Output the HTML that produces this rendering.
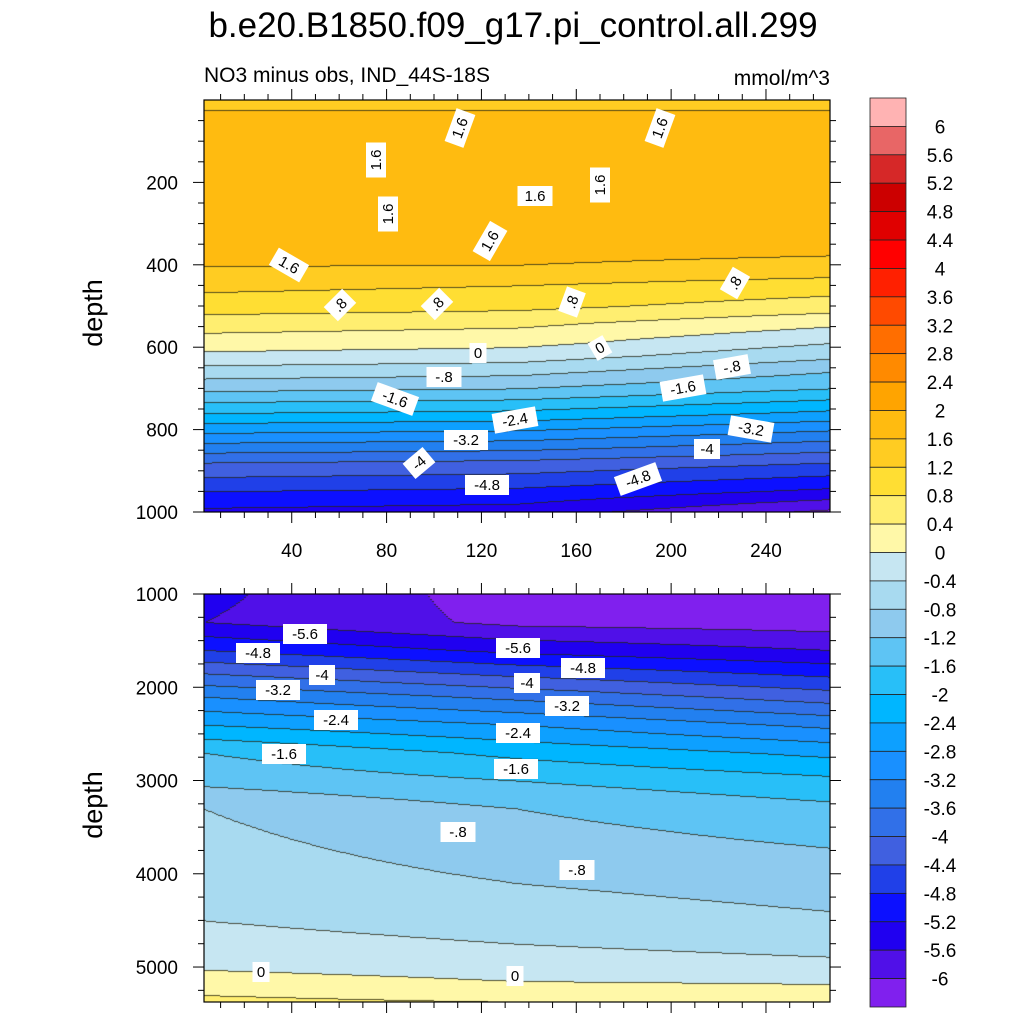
<!DOCTYPE html>
<html><head><meta charset="utf-8"><style>
body{margin:0;background:#fff;}
#wrap{position:relative;width:1024px;height:1024px;overflow:hidden;font-family:"Liberation Sans",sans-serif;}
canvas{position:absolute;}
svg{position:absolute;left:0;top:0;}
</style></head><body>
<div id="wrap">
<canvas id="c1" width="626" height="412" style="left:204px;top:100px"></canvas>
<canvas id="c2" width="626" height="408" style="left:204px;top:594px"></canvas>
<svg id="s" width="1024" height="1024"></svg>
</div>
<script>
const levels=[-6,-5.6,-5.2,-4.8,-4.4,-4,-3.6,-3.2,-2.8,-2.4,-2,-1.6,-1.2,-0.8,-0.4,0,0.4,0.8,1.2,1.6,2,2.4,2.8,3.2,3.6,4,4.4,4.8,5.2,5.6,6];
const colors=["#8020ee","#5010e8","#2000f0","#0c10ff","#2040e8","#4060e0","#3170e8","#2280f0","#1990ff","#0da0ff","#00b6ff","#28bff8","#5ec4f4","#8ecaee","#a8daf0","#c6e6f2","#fff8a8","#ffee70","#ffde33","#ffcc22","#ffbb10","#ffa400","#ff8a00","#ff6e00","#ff4a00","#ff2000","#ff0000","#e00000","#cc0000","#d62828","#e86666","#ffb3b3"];
const colX=[3,135,267];
const topDepths=[0,60,170,350,400,450,500,540,590,620,660,700,760,820,880,950,1000];
const topLeft=[1.58,1.63,1.7,1.75,1.62,1.3,1.0,0.6,0.2,-0.1,-0.6,-1.1,-2.0,-3.0,-4.0,-4.8,-5.3];
const topMid=[1.58,1.63,1.7,1.75,1.6,1.2,0.9,0.5,0.1,-0.2,-0.7,-1.2,-2.1,-3.1,-4.1,-4.9,-5.4];
const topRight=[1.58,1.63,1.7,1.72,1.5,1.0,0.6,0.1,-0.4,-0.7,-1.2,-1.6,-2.5,-3.5,-4.4,-5.3,-6.1];
const botDepths=[1000,1300,1600,1850,2100,2400,2700,3000,3300,4000,4500,5000,5150,5375];
const botLeft=[-5.5,-5.6,-4.8,-4.0,-3.2,-2.4,-1.6,-1.3,-0.8,-0.6,-0.4,-0.05,0.2,0.5];
const botMid=[-6.2,-6.1,-5.3,-4.5,-3.7,-2.8,-2.1,-1.6,-1.2,-0.85,-0.6,-0.2,0.0,0.4];
const botRight=[-6.3,-6.2,-5.6,-4.9,-4.2,-3.3,-2.5,-1.9,-1.5,-1.0,-0.75,-0.3,-0.05,0.3];

function interp(xs,ys,x){if(x<=xs[0])return ys[0];for(let i=1;i<xs.length;i++){if(x<=xs[i]){const t=(x-xs[i-1])/(xs[i]-xs[i-1]);return ys[i-1]+t*(ys[i]-ys[i-1]);}}return ys[ys.length-1];}
function idx(v){let k=0;for(let i=0;i<levels.length;i++){if(v>=levels[i])k=i+1;}return k;}
function field(depths,L,M,R,xv,d){const a=interp(depths,L,d),b=interp(depths,M,d),c=interp(depths,R,d);return interp(colX,[a,b,c],xv);}
function draw(id,depths,L,M,R,x0,x1,d0,d1){
 const cv=document.getElementById(id),ctx=cv.getContext('2d'),W=cv.width,H=cv.height;
 const grid=[];
 for(let j=0;j<H;j++){grid.push([]);const d=d0+(j+0.5)/H*(d1-d0);
  for(let i=0;i<W;i+=2){const xv=x0+(i+1)/W*(x1-x0);const k=idx(field(depths,L,M,R,xv,d));grid[j].push(k);ctx.fillStyle=colors[k];ctx.fillRect(i,j,2,1);}}
 ctx.fillStyle="rgba(40,40,20,0.8)";
 for(let j=1;j<H;j++)for(let i=0;i<grid[j].length;i++){if(grid[j][i]!==grid[j-1][i])ctx.fillRect(i*2,j,2,1);}
}
draw('c1',topDepths,topLeft,topMid,topRight,3,267,0,1000);
draw('c2',botDepths,botLeft,botMid,botRight,3,267,1000,5375);

const S=document.getElementById('s');const NS="http://www.w3.org/2000/svg";
function el(t,a,txt){const e=document.createElementNS(NS,t);for(const k in a)e.setAttribute(k,a[k]);if(txt!==undefined)e.textContent=txt;S.appendChild(e);return e;}
const xs=v=>204+(v-3)/264*626;
const yTop=d=>100+d/1000*412;
const yBot=d=>594+(d-1000)/4375*408;
let e;
e=el('text',{x:513,y:37,'font-size':35,'text-anchor':'middle'},'b.e20.B1850.f09_g17.pi_control.all.299');

e=el('text',{x:204,y:82,'font-size':21},'NO3 minus obs, IND_44S-18S');

e=el('text',{x:830,y:85,'font-size':21,'text-anchor':'end'},'mmol/m^3');

e=el('rect',{x:204,y:100,width:626,height:412,fill:'none',stroke:'#000','stroke-width':1.2});

e=el('rect',{x:204,y:594,width:626,height:408,fill:'none',stroke:'#000','stroke-width':1.2});

const xticks=[40,80,120,160,200,240];
for(let v=10;v<=260;v+=10){const X=xs(v),maj=v%40===0,L=maj?11:6;
 el('line',{x1:X,x2:X,y1:512,y2:512+L,stroke:'#000'});el('line',{x1:X,x2:X,y1:100,y2:100-L,stroke:'#000'});
 el('line',{x1:X,x2:X,y1:1002,y2:1002+L,stroke:'#000'});el('line',{x1:X,x2:X,y1:594,y2:594-L,stroke:'#000'});}
xticks.forEach(v=>{e=el('text',{x:xs(v),y:557,'font-size':19,'text-anchor':'middle'},String(v));
 });
for(let d=50;d<=1000;d+=50){const Y=yTop(d),maj=d%200===0,L=maj?11:6;
 el('line',{x1:204,x2:204-L,y1:Y,y2:Y,stroke:'#000'});el('line',{x1:830,x2:830+L,y1:Y,y2:Y,stroke:'#000'});}
[200,400,600,800,1000].forEach(d=>{e=el('text',{x:178,y:yTop(d)+7,'font-size':19,'text-anchor':'end'},String(d));
 });
for(let d=1000;d<=5375;d+=250){const Y=yBot(d),maj=d%1000===0,L=maj?11:6;
 el('line',{x1:204,x2:204-L,y1:Y,y2:Y,stroke:'#000'});el('line',{x1:830,x2:830+L,y1:Y,y2:Y,stroke:'#000'});}
[1000,2000,3000,4000,5000].forEach(d=>{e=el('text',{x:178,y:yBot(d)+7,'font-size':19,'text-anchor':'end'},String(d));
 });
e=el('text',{x:0,y:0,'font-size':27,'text-anchor':'middle',transform:'translate(102,313) rotate(-90)'},'depth');

e=el('text',{x:0,y:0,'font-size':27,'text-anchor':'middle',transform:'translate(102,805) rotate(-90)'},'depth');

const labs=[[460,128,'1.6',-70],[376,160,'1.6',-90],[660,128,'1.6',-70],[535,196,'1.6',0],[388,214,'1.6',-90],[600,185,'1.6',-90],[490,241,'1.6',-60],[289,265,'1.6',30],[340,305,'.8',-45],[437,304,'.8',-45],[572,302,'.8',-70],[735,283,'.8',-60],
[478,353,'0',0],[600,348,'0',-30],[444,377,'-.8',0],[732,367,'-.8',-10],[395,399,'-1.6',20],[683,388,'-1.6',-10],[515,420,'-2.4',-10],[751,429,'-3.2',10],[466,440,'-3.2',0],[707,449,'-4',0],[419,463,'-4',-40],[487,485,'-4.8',0],[638,479,'-4.8',-20],
[305,634,'-5.6',0],[518,648,'-5.6',0],[258,653,'-4.8',0],[583,668,'-4.8',0],[322,675,'-4',0],[527,683,'-4',0],[278,690,'-3.2',0],[567,706,'-3.2',0],[336,720,'-2.4',0],[518,733,'-2.4',0],[284,754,'-1.6',0],[516,769,'-1.6',0],[458,832,'-.8',0],[577,870,'-.8',0],[261,972,'0',0],[515,976,'0',0]];
labs.forEach(l=>{const g=document.createElementNS(NS,'g');g.setAttribute('transform',`translate(${l[0]},${l[1]}) rotate(${l[3]})`);
 
 const w=l[2].length*9+8;const r=document.createElementNS(NS,'rect');r.setAttribute('x',-w/2);r.setAttribute('y',-10);r.setAttribute('width',w);r.setAttribute('height',20);r.setAttribute('fill','#fff');g.appendChild(r);
 const t=document.createElementNS(NS,'text');t.setAttribute('x',0);t.setAttribute('y',5);t.setAttribute('font-size',15);t.setAttribute('text-anchor','middle');t.textContent=l[2];g.appendChild(t);S.appendChild(g);});
const cbTop=98,cbH=(1007-98)/32;
for(let k=0;k<32;k++){const c=colors[31-k];
 e=el('rect',{x:870,y:cbTop+k*cbH,width:36,height:cbH,fill:c,stroke:'#222','stroke-width':0.8});
 }
for(let k=0;k<31;k++){const v=levels[30-k];let s=String(Math.round(v*10)/10);
 e=el('text',{x:940,y:cbTop+(k+1)*cbH+7,'font-size':19,'text-anchor':'middle'},s);
 }
</script>
</body></html>
